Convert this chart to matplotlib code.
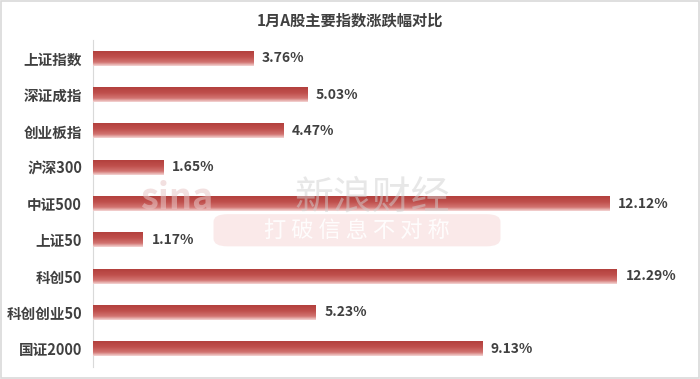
import numpy as np
import matplotlib
matplotlib.use("Agg")
import matplotlib.pyplot as plt
from matplotlib.colors import LinearSegmentedColormap
from matplotlib.patches import FancyBboxPatch, Rectangle

plt.rcParams['font.family'] = ['Noto Sans CJK SC', 'DejaVu Sans']

title = "1月A股主要指数涨跌幅对比"
names = ["上证指数", "深证成指", "创业板指", "沪深300", "中证500", "上证50", "科创50", "科创创业50", "国证2000"]
changes = [3.76, 5.03, 4.47, 1.65, 12.12, 1.17, 12.29, 5.23, 9.13]

fig = plt.figure(figsize=(7, 3.79), dpi=100)
fig.patches.append(Rectangle((0.001, 0.002), 0.997, 0.995, transform=fig.transFigure,
                             fill=False, edgecolor="#d9d9d9", linewidth=1.2))
ax = fig.add_axes([0.133, 0.032, 0.81, 0.862])

# vertical gradient like the Excel cylinder bars
grad_cmap = LinearSegmentedColormap.from_list(
    "barred", [(0.0, "#f4d6d5"), (0.25, "#d27471"), (0.6, "#c0504d"), (1.0, "#b3403d")])
grad = np.linspace(0, 1, 64).reshape(-1, 1)

y = np.arange(len(names))
bars = ax.barh(y, changes, height=0.41, color="#c0504d", linewidth=0, zorder=2)
for b in bars:
    x0, y0 = b.get_x(), b.get_y()
    w, h = b.get_width(), b.get_height()
    im = ax.imshow(grad, cmap=grad_cmap, aspect="auto", extent=(x0, x0 + w, y0, y0 + h),
                   origin="upper", zorder=3, interpolation="bilinear")
    im.set_clip_path(b)

for yi, v in zip(y, changes):
    ax.text(v + 0.2, yi, f"{v:.2f}%", va="center", ha="left", fontsize=10,
            fontweight="bold", color="#404040", zorder=4)

ax.set_xlim(0, 13.3)
ax.set_ylim(len(names) - 0.5, -0.5)
ax.set_yticks(y)
ax.set_yticklabels(names, fontsize=10.5, fontweight="bold", color="#404040")
ax.set_xticks([])
ax.tick_params(axis="y", length=0, pad=8)
for s in ["top", "right", "bottom"]:
    ax.spines[s].set_visible(False)
ax.spines["left"].set_color("#d9d9d9")

fig.text(0.5, 0.945, title, ha="center", va="center", fontsize=11, fontweight="bold", color="#404040")

# faint watermark
fig.text(0.2, 0.45, "sina", fontsize=26, fontweight="bold", style="italic",
         color="#e8c8c8", alpha=0.55, ha="left", va="baseline", zorder=1)
fig.text(0.42, 0.45, "新浪财经", fontsize=28, style="italic", color="#d0d0d0", alpha=0.5,
         ha="left", va="baseline", zorder=1)
fig.patches.append(FancyBboxPatch((0.31, 0.355), 0.4, 0.075, boxstyle="round,pad=0.005,rounding_size=0.02",
                                  transform=fig.transFigure, facecolor="#f6d5d5", edgecolor="none",
                                  alpha=0.5, zorder=0))
fig.text(0.51, 0.39, "打 破 信 息 不 对 称", fontsize=16, style="italic", color="white",
         alpha=0.9, ha="center", va="center", zorder=1)

fig.savefig("out.png", dpi=100)
